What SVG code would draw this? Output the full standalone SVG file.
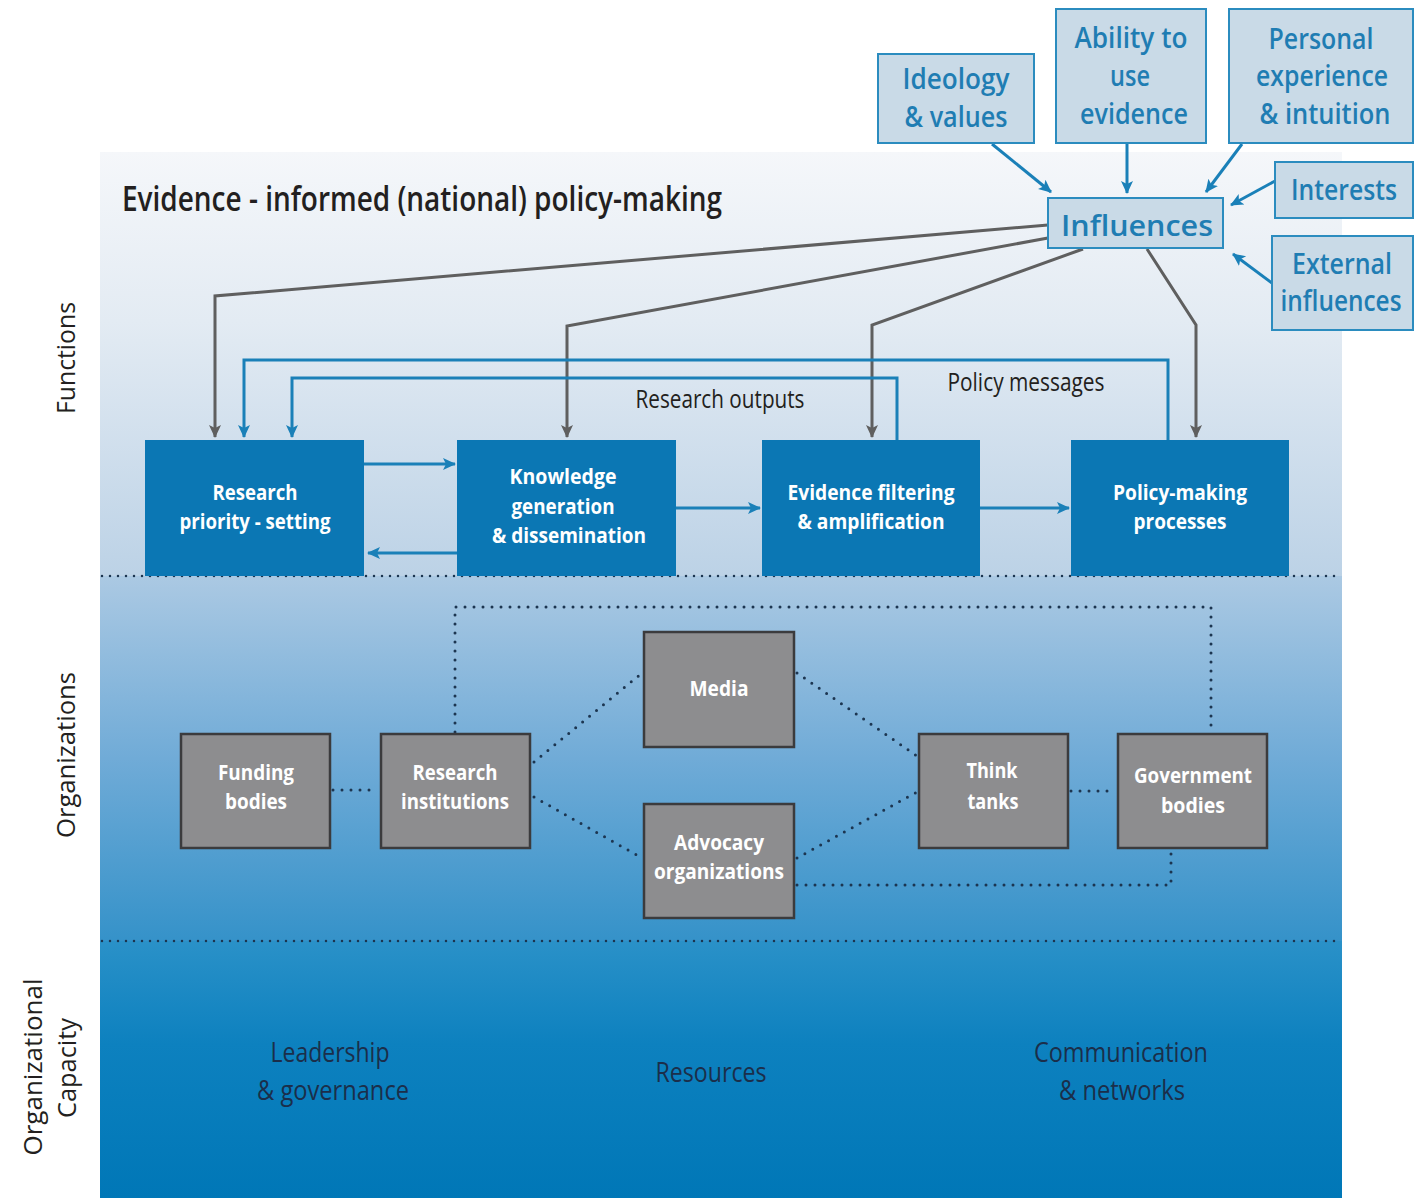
<svg xmlns="http://www.w3.org/2000/svg" width="1414" height="1198" viewBox="0 0 1414 1198">
<defs>
<linearGradient id="g1" x1="0" y1="0" x2="0" y2="1">
<stop offset="0" stop-color="#f5f7fa"/><stop offset="0.4" stop-color="#e3ebf3"/><stop offset="1" stop-color="#bcd2e6"/>
</linearGradient>
<linearGradient id="g2" x1="0" y1="0" x2="0" y2="1">
<stop offset="0" stop-color="#abc9e3"/><stop offset="0.5" stop-color="#70abd7"/><stop offset="1" stop-color="#3592c9"/>
</linearGradient>
<linearGradient id="g3" x1="0" y1="0" x2="0" y2="1">
<stop offset="0" stop-color="#2a91c8"/><stop offset="0.4" stop-color="#0d81bf"/><stop offset="1" stop-color="#0077b7"/>
</linearGradient>
<marker id="ag" markerWidth="14" markerHeight="14" refX="12" refY="7" orient="auto" markerUnits="userSpaceOnUse"><path d="M0,1 L13,7 L0,13 L3,7 z" fill="#5f5f5f"/></marker>
<marker id="ab" markerWidth="14" markerHeight="14" refX="12" refY="7" orient="auto" markerUnits="userSpaceOnUse"><path d="M0,1 L13,7 L0,13 L3,7 z" fill="#1a80b8"/></marker>
<style>
.t{font-family:"Open Sans","Noto Sans","Liberation Sans",sans-serif;text-anchor:middle}
.inf{fill:#1f7db3;font-size:28px;font-weight:600}
.ibox{fill:#c9dae7;stroke:#2b8cbf;stroke-width:2}
.fbox{fill:#0b77b4}
.fb{fill:#ffffff;font-size:22px;font-weight:bold}
.obox{fill:#8d8d8f;stroke:#3b3b3d;stroke-width:2.5}
.ob{fill:#ffffff;font-size:22px;font-weight:bold}
.lab{fill:#231f20;font-size:25px}
.cap{fill:#1b2e4a;font-size:28px}
.side{fill:#231f20;font-size:26px}
.gl{fill:none;stroke:#5f5f5f;stroke-width:3;marker-end:url(#ag)}
.bl{fill:none;stroke:#1a80b8;stroke-width:3;marker-end:url(#ab)}
.dot{fill:none;stroke:#1c3550;stroke-width:3;stroke-dasharray:0 9;stroke-linecap:round}
.sep{fill:none;stroke:#1c3550;stroke-width:2.5;stroke-dasharray:0 8;stroke-linecap:round}
</style>
</defs>
<rect x="0" y="0" width="1414" height="1198" fill="#ffffff"/>
<rect x="100" y="152" width="1242" height="424" fill="url(#g1)"/>
<rect x="100" y="576" width="1242" height="365" fill="url(#g2)"/>
<rect x="100" y="941" width="1242" height="257" fill="url(#g3)"/>
<line class="sep" x1="102" y1="576" x2="1342" y2="576"/>
<line class="sep" x1="102" y1="941" x2="1342" y2="941"/>

<text class="t" x="422" y="211" fill="#231f20" font-size="35" font-weight="600" textLength="600" lengthAdjust="spacingAndGlyphs">Evidence - informed (national) policy-making</text>

<text class="t side" transform="translate(75,358) rotate(-90)" textLength="112" lengthAdjust="spacingAndGlyphs">Functions</text>
<text class="t side" transform="translate(75,755) rotate(-90)" textLength="166" lengthAdjust="spacingAndGlyphs">Organizations</text>
<text class="t side" transform="translate(42,1067) rotate(-90)" textLength="177" lengthAdjust="spacingAndGlyphs">Organizational</text>
<text class="t side" transform="translate(76,1068) rotate(-90)" textLength="100" lengthAdjust="spacingAndGlyphs">Capacity</text>

<g id="connectors">
<path class="bl" d="M992,144 L1051,192"/>
<path class="bl" d="M1127,144 L1127,193"/>
<path class="bl" d="M1242,144 L1206,192"/>
<path class="bl" d="M1275,181 L1231,205"/>
<path class="bl" d="M1272,283 L1233,254"/>
<path class="gl" d="M1048,225 L215,296 L215,437"/>
<path class="gl" d="M1048,238 L567,326 L567,437"/>
<path class="gl" d="M1083,249 L872,325 L872,437"/>
<path class="gl" d="M1147,249 L1196,325 L1196,437"/>
<path class="bl" d="M1168,440 L1168,360 L244,360 L244,437"/>
<path class="bl" d="M897,440 L897,378 L292,378 L292,437"/>
<path class="bl" d="M364,464 L455,464"/>
<path class="bl" d="M457,553 L368,553"/>
<path class="bl" d="M676,508 L760,508"/>
<path class="bl" d="M980,508 L1069,508"/>
<path class="dot" d="M333,790 L378,790"/>
<path class="dot" d="M455,732 L455,607 L1211,607 L1211,732"/>
<path class="dot" d="M534,762 L642,673"/>
<path class="dot" d="M534,797 L642,858"/>
<path class="dot" d="M797,673 L917,756"/>
<path class="dot" d="M797,858 L917,792"/>
<path class="dot" d="M1071,791 L1116,791"/>
<path class="dot" d="M797,885 L1171,885 L1171,851"/>
</g>
<text class="t lab" x="720" y="408" textLength="169" lengthAdjust="spacingAndGlyphs">Research outputs</text>
<text class="t lab" x="1026" y="391" textLength="157" lengthAdjust="spacingAndGlyphs">Policy messages</text>

<g id="ideology"><rect class="ibox" x="878" y="54" width="156" height="89"/>
<text class="t inf" x="956" y="89" textLength="107" lengthAdjust="spacingAndGlyphs">Ideology</text>
<text class="t inf" x="956" y="127" textLength="103" lengthAdjust="spacingAndGlyphs">&amp; values</text></g>
<g id="ability"><rect class="ibox" x="1056" y="9" width="150" height="134"/>
<text class="t inf" x="1131" y="48" textLength="113" lengthAdjust="spacingAndGlyphs">Ability to</text>
<text class="t inf" x="1130" y="86" textLength="40" lengthAdjust="spacingAndGlyphs">use</text>
<text class="t inf" x="1134" y="124" textLength="108" lengthAdjust="spacingAndGlyphs">evidence</text></g>
<g id="personal"><rect class="ibox" x="1229" y="9" width="184" height="134"/>
<text class="t inf" x="1321" y="49" textLength="105" lengthAdjust="spacingAndGlyphs">Personal</text>
<text class="t inf" x="1322" y="86" textLength="132" lengthAdjust="spacingAndGlyphs">experience</text>
<text class="t inf" x="1325" y="124" textLength="131" lengthAdjust="spacingAndGlyphs">&amp; intuition</text></g>
<g id="interests"><rect class="ibox" x="1275" y="162" width="138" height="56"/>
<text class="t inf" x="1344" y="200" textLength="106" lengthAdjust="spacingAndGlyphs">Interests</text></g>
<g id="external"><rect class="ibox" x="1272" y="236" width="141" height="94"/>
<text class="t inf" x="1342" y="274" textLength="100" lengthAdjust="spacingAndGlyphs">External</text>
<text class="t inf" x="1341" y="311" textLength="121" lengthAdjust="spacingAndGlyphs">influences</text></g>
<g id="influences"><rect class="ibox" x="1048" y="198" width="175" height="50"/>
<text class="t inf" x="1137" y="236" font-size="36" textLength="152" lengthAdjust="spacingAndGlyphs">Influences</text></g>

<g id="priority"><rect class="fbox" x="145" y="440" width="219" height="136"/>
<text class="t fb" x="255" y="500" textLength="85" lengthAdjust="spacingAndGlyphs">Research</text>
<text class="t fb" x="255" y="529" textLength="151" lengthAdjust="spacingAndGlyphs">priority - setting</text></g>
<g id="knowledge"><rect class="fbox" x="457" y="440" width="219" height="136"/>
<text class="t fb" x="563" y="484" textLength="107" lengthAdjust="spacingAndGlyphs">Knowledge</text>
<text class="t fb" x="563" y="514" textLength="103" lengthAdjust="spacingAndGlyphs">generation</text>
<text class="t fb" x="569" y="543" textLength="154" lengthAdjust="spacingAndGlyphs">&amp; dissemination</text></g>
<g id="filtering"><rect class="fbox" x="762" y="440" width="218" height="136"/>
<text class="t fb" x="871" y="500" textLength="167" lengthAdjust="spacingAndGlyphs">Evidence filtering</text>
<text class="t fb" x="871" y="529" textLength="147" lengthAdjust="spacingAndGlyphs">&amp; amplification</text></g>
<g id="policymaking"><rect class="fbox" x="1071" y="440" width="218" height="136"/>
<text class="t fb" x="1180" y="500" textLength="134" lengthAdjust="spacingAndGlyphs">Policy-making</text>
<text class="t fb" x="1180" y="529" textLength="93" lengthAdjust="spacingAndGlyphs">processes</text></g>

<g id="funding"><rect class="obox" x="181" y="734" width="149" height="114"/>
<text class="t ob" x="256" y="780" textLength="76" lengthAdjust="spacingAndGlyphs">Funding</text>
<text class="t ob" x="256" y="809" textLength="62" lengthAdjust="spacingAndGlyphs">bodies</text></g>
<g id="research"><rect class="obox" x="381" y="734" width="149" height="114"/>
<text class="t ob" x="455" y="780" textLength="85" lengthAdjust="spacingAndGlyphs">Research</text>
<text class="t ob" x="455" y="809" textLength="108" lengthAdjust="spacingAndGlyphs">institutions</text></g>
<g id="media"><rect class="obox" x="644" y="632" width="150" height="115"/>
<text class="t ob" x="719" y="696" textLength="59" lengthAdjust="spacingAndGlyphs">Media</text></g>
<g id="advocacy"><rect class="obox" x="644" y="804" width="150" height="114"/>
<text class="t ob" x="719" y="850" textLength="90" lengthAdjust="spacingAndGlyphs">Advocacy</text>
<text class="t ob" x="719" y="879" textLength="130" lengthAdjust="spacingAndGlyphs">organizations</text></g>
<g id="think"><rect class="obox" x="919" y="734" width="149" height="114"/>
<text class="t ob" x="992" y="778" textLength="51" lengthAdjust="spacingAndGlyphs">Think</text>
<text class="t ob" x="993" y="809" textLength="51" lengthAdjust="spacingAndGlyphs">tanks</text></g>
<g id="government"><rect class="obox" x="1118" y="734" width="149" height="114"/>
<text class="t ob" x="1193" y="783" textLength="118" lengthAdjust="spacingAndGlyphs">Government</text>
<text class="t ob" x="1193" y="813" textLength="64" lengthAdjust="spacingAndGlyphs">bodies</text></g>

<g id="capacity">
<text class="t cap" x="330" y="1062" textLength="119" lengthAdjust="spacingAndGlyphs">Leadership</text>
<text class="t cap" x="333" y="1100" textLength="152" lengthAdjust="spacingAndGlyphs">&amp; governance</text>
<text class="t cap" x="711" y="1082" textLength="111" lengthAdjust="spacingAndGlyphs">Resources</text>
<text class="t cap" x="1121" y="1062" textLength="174" lengthAdjust="spacingAndGlyphs">Communication</text>
<text class="t cap" x="1122" y="1100" textLength="126" lengthAdjust="spacingAndGlyphs">&amp; networks</text>
</g>
</svg>
